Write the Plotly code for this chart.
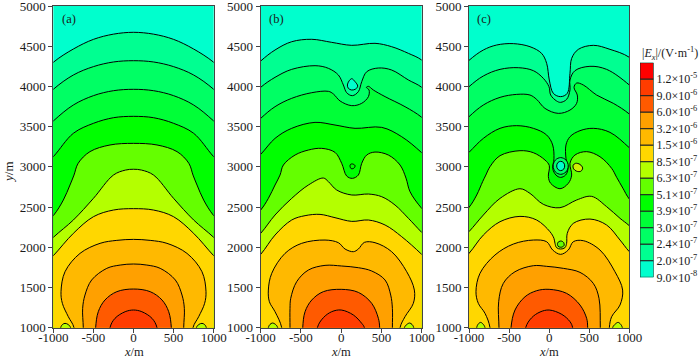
import plotly.graph_objects as go

W, H = 700, 359
FONT = "Liberation Serif"

# Legend (top to bottom)
CB_LABELS = ["1.2×10<sup>-5</sup>", "9.0×10<sup>-6</sup>", "6.0×10<sup>-6</sup>", "3.2×10<sup>-6</sup>",
             "1.5×10<sup>-6</sup>", "8.5×10<sup>-7</sup>", "6.3×10<sup>-7</sup>", "5.1×10<sup>-7</sup>",
             "3.9×10<sup>-7</sup>", "3.0×10<sup>-7</sup>", "2.4×10<sup>-7</sup>", "2.0×10<sup>-7</sup>",
             "9.0×10<sup>-8</sup>"]
CB_COLORS = ["rgb(255,0,0)", "rgb(255,60,0)", "rgb(255,90,0)", "rgb(255,160,0)", "rgb(255,185,0)",
             "rgb(255,215,0)", "rgb(180,255,0)", "rgb(100,255,0)", "rgb(0,255,0)", "rgb(0,255,55)",
             "rgb(0,255,100)", "rgb(0,255,145)", "rgb(0,255,205)"]
X_TICKS = [-1000, -500, 0, 500, 1000]
Y_TICKS = [1000, 1500, 2000, 2500, 3000, 3500, 4000, 4500, 5000]

# Panel (a) contours, (x, y) in metres
A_L1 = [(-1000,4300),(-750,4465),(-500,4585),(-250,4650),(0,4673),(250,4650),(500,4585),(750,4465),(1000,4300)]
A_L2 = [(-1000,3964),(-750,4142),(-500,4246),(-250,4304),(0,4320),(250,4304),(500,4246),(750,4142),(1000,3964)]
A_L3 = [(-1000,3570),(-750,3769),(-500,3885),(-250,3947),(0,3964),(250,3947),(500,3885),(750,3769),(1000,3570)]
A_L4 = [(-1000,3126),(-750,3417),(-500,3541),(-250,3611),(0,3628),(250,3611),(500,3541),(750,3417),(1000,3126)]
A_L5 = [(-1000,2393),(-875,2587),(-792,2774),(-742,2898),(-690,3044),(-543,3189),(-293,3272),(0,3292),
        (293,3272),(543,3189),(690,3044),(742,2898),(792,2774),(875,2587),(1000,2393)]
A_L6 = [(-1000,2123),(-750,2339),(-500,2608),(-250,2898),(-100,2960),(0,2970),(100,2960),(250,2898),
        (500,2608),(750,2339),(1000,2123)]
A_L7 = [(-1000,1895),(-750,2173),(-500,2380),(-250,2463),(0,2480),(250,2463),(500,2380),(750,2173),(1000,1895)]
A_L8 = [(-742,1000),(-813,1137),(-887,1303),(-904,1448),(-854,1696),(-667,1924),(-417,2049),(-208,2086),(0,2098),
        (208,2086),(417,2049),(667,1924),(854,1696),(904,1448),(887,1303),(813,1137),(742,1000)]
A_L9 = [(-626,1000),(-634,1240),(-605,1406),(-522,1593),(-333,1738),(-166,1779),(0,1792),(166,1779),(333,1738),
        (522,1593),(605,1406),(634,1240),(626,1000)]
A_L10 = [(-472,1000),(-439,1199),(-356,1344),(-208,1448),(0,1481),(208,1448),(356,1344),(439,1199),(472,1000)]
A_L11 = [(-293,1000),(-231,1116),(-104,1199),(0,1220),(104,1199),(231,1116),(293,1000)]
A_BUMP_L = [(-908,1000),(-885,1040),(-854,1054),(-815,1040),(-784,1000)]
A_BUMP_R = [(784,1000),(815,1040),(854,1054),(885,1040),(908,1000)]

# Panel (b) contours
B_L1 = [(-1000,4316),(-822,4453),(-615,4556),(-366,4586),(-118,4548),(131,4511),(420,4536),(627,4494),(835,4411),(1000,4328)]
B_L2 = [(-1000,3989),(-822,4113),(-615,4212),(-325,4258),(-159,4225),(-35,4142),(27,4018),(68,3922),(139,3885),
        (213,3935),(255,4059),(317,4183),(462,4229),(627,4204),(835,4080),(1000,3989)]
B_L3 = [(-1000,3603),(-822,3748),(-615,3852),(-366,3922),(-159,3939),(-97,3906),(-14,3819),(131,3761),(255,3790),
        (338,3873),(346,3955),(313,3989),(338,4001),(400,3955),(545,3873),(793,3748),(1000,3616)]
B_L4 = [(-1000,3155),(-822,3354),(-615,3479),(-325,3553),(-77,3520),(172,3479),(503,3491),(751,3375),(1000,3176)]
B_L5 = [(-1000,2463),(-905,2608),(-822,2774),(-760,2898),(-718,3023),(-573,3147),(-408,3209),(-242,3230),(-77,3180),
        (6,3044),(68,2886),(139,2857),(213,2898),(255,3044),(317,3147),(420,3184),(586,3147),(731,3023),(805,2860),
        (855,2691),(1000,2484)]
B_L6 = [(-1000,2173),(-822,2401),(-615,2608),(-408,2774),(-222,2861),(-159,2816),(-56,2712),(131,2650),(338,2662),
        (503,2629),(669,2525),(835,2360),(1000,2185)]
B_L7 = [(-1000,1912),(-822,2152),(-615,2339),(-449,2393),(-263,2409),(-77,2368),(131,2322),(338,2339),(545,2277),
        (751,2132),(1000,1912)]
B_L8 = [(-739,1000),(-822,1199),(-892,1323),(-905,1468),(-863,1676),(-698,1924),(-491,2049),(-201,2090),(-35,2057),
        (48,1978),(151,1945),(213,1978),(288,2061),(420,2057),(627,1945),(814,1696),(909,1468),(896,1303),(793,1137),(731,1000)]
B_L9 = [(-636,1000),(-636,1240),(-627,1365),(-553,1572),(-408,1717),(-201,1775),(6,1767),(213,1746),(379,1705),
        (545,1593),(615,1406),(636,1240),(636,1000)]
B_L10 = [(-478,1000),(-449,1199),(-366,1344),(-222,1448),(0,1477),(213,1439),(379,1303),(462,1116),(478,1000)]
B_L11 = [(-296,1000),(-222,1124),(-118,1199),(0,1220),(151,1158),(255,1054),(288,1000)]
B_BUMP_L = [(-905,1000),(-885,1040),(-855,1058),(-815,1040),(-789,1000)]
B_BUMP_R = [(785,1000),(815,1040),(850,1058),(880,1040),(901,1000)]
B_ISLE_TOP = [(131,4096),(172,4059),(205,4005),(180,3968),(131,3955),(89,3976),(77,4018),(97,4067)]
B_ISLE_MID = [(140,3036),(172,3015),(160,2985),(125,2977),(110,3005),(115,3030)]

# Panel (c) contours
C_L1 = [(-1000,4324),(-821,4453),(-655,4515),(-447,4532),(-239,4494),(-94,4411),(-31,4287),(2,4080),(52,3914),(143,3873),
        (226,3914),(260,4163),(281,4349),(364,4461),(551,4511),(759,4461),(1000,4362)]
C_L2 = [(-1000,3997),(-821,4130),(-613,4212),(-385,4233),(-197,4196),(-73,4101),(-2,3997),(19,3893),(93,3819),(143,3802),
        (218,3839),(260,3955),(260,4080),(322,4196),(509,4250),(717,4212),(1000,4018)]
C_L3 = [(-1000,3624),(-821,3769),(-613,3864),(-405,3901),(-239,3893),(-156,3839),(-52,3727),(114,3665),(260,3706),
        (343,3790),(351,3893),(310,3988),(343,4042),(426,4018),(592,3893),(800,3790),(1000,3657)]
C_L4 = [(-1000,3180),(-821,3354),(-613,3479),(-405,3512),(-197,3479),(-31,3396),(44,3272),(60,3100),(44,2981),(85,2898),
        (143,2869),(205,2898),(235,2981),(210,3106),(210,3272),(260,3375),(385,3450),(551,3479),(759,3429),(1000,3238)]
C_L5 = [(-1000,2496),(-904,2650),(-830,2816),(-790,2898),(-738,3002),(-613,3139),(-364,3201),(-197,3176),(-52,3085),
        (2,3015),(-10,2878),(19,2795),(135,2728),(239,2795),(281,2898),(260,3044),(322,3147),(468,3189),(634,3126),
        (780,2981),(842,2870),(920,2735),(1000,2600)]
C_L6 = [(-1000,2194),(-821,2401),(-613,2608),(-364,2728),(-239,2670),(-73,2534),(135,2492),(343,2588),(530,2633),
        (717,2505),(884,2360),(1000,2268)]
C_L7 = [(-1000,1924),(-821,2152),(-613,2318),(-364,2384),(-156,2339),(10,2194),(60,2111),(73,2049),(93,1995),(143,1978),
        (197,1995),(218,2049),(226,2173),(301,2297),(509,2351),(717,2277),(884,2090),(1000,1945)]
C_L8 = [(-738,1000),(-800,1178),(-884,1303),(-913,1448),(-863,1676),(-676,1904),(-447,2040),(-197,2090),(-31,2069),
        (44,1966),(143,1912),(239,1966),(301,2069),(426,2082),(634,1966),(821,1696),(917,1468),(884,1282),(780,1137),(751,1000)]
C_L9 = [(-626,1000),(-630,1323),(-572,1551),(-426,1696),(-197,1771),(-31,1763),(177,1738),(385,1688),(551,1551),
        (622,1365),(638,1000)]
C_L10 = [(-476,1000),(-426,1220),(-301,1385),(-156,1460),(0,1477),(218,1427),(385,1282),(468,1116),(481,1000)]
C_L11 = [(-293,1000),(-218,1124),(-114,1195),(0,1220),(158,1166),(260,1075),(293,1000)]
C_BUMP_L = [(-904,1000),(-885,1045),(-855,1066),(-825,1045),(-800,1000)]
C_BUMP_R = [(792,1000),(825,1045),(860,1066),(890,1045),(913,1000)]
C_RING_OUT = [(144,3115),(210,3085),(238,3011),(210,2937),(144,2907),(78,2937),(50,3011),(78,3085)]
C_RING_IN = [(144,3069),(180,3052),(194,3011),(180,2970),(144,2953),(108,2970),(94,3011),(108,3052)]
C_ISLE_YEL = [(330,3044),(385,3030),(418,2985),(395,2945),(345,2945),(305,2975),(300,3020)]
C_ISLE_LOW = [(145,2078),(180,2060),(185,2020),(145,2000),(110,2015),(106,2055)]

BAND_COLORS = list(reversed(CB_COLORS))[1:]  # bands going from the outer contour inward
LINE = dict(color="black", width=1, shape="spline", smoothing=1.0, simplify=False)


def closed_below(pts):
    """Close an open contour well outside the axes so only the drawn part shows."""
    def tail(p):
        x, y = p
        if y <= 1000:
            return [(x, 700), (x, 300)]
        s = 1 if x > 0 else -1
        return [(x + s * 250, y - 250 if y > 1500 else y), (s * 1500, 300)]
    return list(reversed(tail(pts[0]))) + list(pts) + tail(pts[-1])


def add_poly(fig, pts, color, idx):
    fig.add_trace(go.Scatter(x=[p[0] for p in pts], y=[p[1] for p in pts], mode="lines", fill="toself",
                             fillcolor=color, line=LINE, hoverinfo="skip", showlegend=False,
                             xaxis=f"x{idx}", yaxis=f"y{idx}"))


PANELS = [
    (1, [A_L1, A_L2, A_L3, A_L4, A_L5, A_L6, A_L7, A_L8, A_L9, A_L10, A_L11],
     [(A_BUMP_L, CB_COLORS[6]), (A_BUMP_R, CB_COLORS[6])], []),
    (2, [B_L1, B_L2, B_L3, B_L4, B_L5, B_L6, B_L7, B_L8, B_L9, B_L10, B_L11],
     [(B_BUMP_L, CB_COLORS[6]), (B_BUMP_R, CB_COLORS[6])],
     [(B_ISLE_TOP, CB_COLORS[12]), (B_ISLE_MID, CB_COLORS[8])]),
    (3, [C_L1, C_L2, C_L3, C_L4, C_L5, C_L6, C_L7, C_L8, C_L9, C_L10, C_L11],
     [(C_BUMP_L, CB_COLORS[6]), (C_BUMP_R, CB_COLORS[6])],
     [(C_RING_OUT, CB_COLORS[10]), (C_RING_IN, CB_COLORS[12]), (C_ISLE_YEL, "rgb(205,240,0)"), (C_ISLE_LOW, CB_COLORS[7])]),
]

fig = go.Figure()
for idx, levels, bumps, isles in PANELS:
    for lvl, col in zip(levels, BAND_COLORS):
        add_poly(fig, closed_below(lvl), col, idx)
    for pts, col in bumps:
        add_poly(fig, closed_below(pts), col, idx)
    for pts, col in isles:
        add_poly(fig, list(pts) + [pts[0]], col, idx)

# Legend cells, top to bottom
n = len(CB_COLORS)
for i, col in enumerate(CB_COLORS):
    fig.add_trace(go.Bar(x=[0], y=[1], base=[n - 1 - i], width=[1], marker=dict(color=col, line=dict(color="#222", width=1)),
                         hoverinfo="skip", showlegend=False, xaxis="x4", yaxis="y4"))

top, bot = 1 - 6 / H, 1 - 327.7 / H
doms = [(53.3, 213.7), (260.7, 421.7), (469.0, 629.3)]
layout = dict(template="none", width=W, height=H, margin=dict(l=0, r=0, t=0, b=0, pad=0), paper_bgcolor="white",
              plot_bgcolor=CB_COLORS[12], font=dict(family=FONT, size=13, color="#1a1a1a"),
              showlegend=False, barmode="overlay")
for k, (a, b) in enumerate(doms, start=1):
    suf = "" if k == 1 else str(k)
    common = dict(showline=True, linecolor="#444", linewidth=1, mirror=True, showgrid=False, zeroline=False,
                  ticks="outside", ticklen=4, tickwidth=1, tickcolor="#444", automargin=False,
                  ticklabeloverflow="allow")
    layout["xaxis" + suf] = dict(domain=[a / W, b / W], range=[-1000, 1000], tickvals=X_TICKS, anchor="y" + suf,
                                 ticktext=[str(v) for v in X_TICKS], ticklabelstandoff=-6, **common)
    layout["yaxis" + suf] = dict(domain=[bot, top], range=[1000, 5000], tickvals=Y_TICKS, anchor="x" + suf, **common)
layout["xaxis4"] = dict(domain=[640 / W, 653.5 / W], range=[-0.5, 0.5], visible=False, anchor="y4", automargin=False)
layout["yaxis4"] = dict(domain=[1 - 277.3 / H, 1 - 62.7 / H], range=[0, n], side="right", anchor="x4", showgrid=False,
                        zeroline=False, showline=False, ticks="", tickvals=list(range(n - 1, -1, -1)),
                        ticktext=CB_LABELS, tickfont=dict(size=12), automargin=False, ticklabeloverflow="allow",
                        ticklabelstandoff=2)

ann = []
def note(px, py, text, size=13, angle=0):
    ann.append(dict(x=px / W, y=1 - py / H, xref="paper", yref="paper", text=text, showarrow=False,
                    font=dict(size=size), textangle=angle, xanchor="center", yanchor="middle"))
for px, t in [(68.5, "(a)"), (276, "(b)"), (484, "(c)")]:
    note(px, 19.5, t, 12.5)
for px in (134, 341, 549):
    note(px, 351.5, "<i>x</i>/m", 12.5)
note(8, 172, "<i>y</i>/m", 13, -90)
note(670, 54, "|<i>E<sub>x</sub></i>|/(V·m<sup>-1</sup>)", 12)
layout["annotations"] = ann
fig.update_layout(**layout)
fig.write_html("out.html", config=dict(displayModeBar=False), post_script="document.body.style.margin='0';")
